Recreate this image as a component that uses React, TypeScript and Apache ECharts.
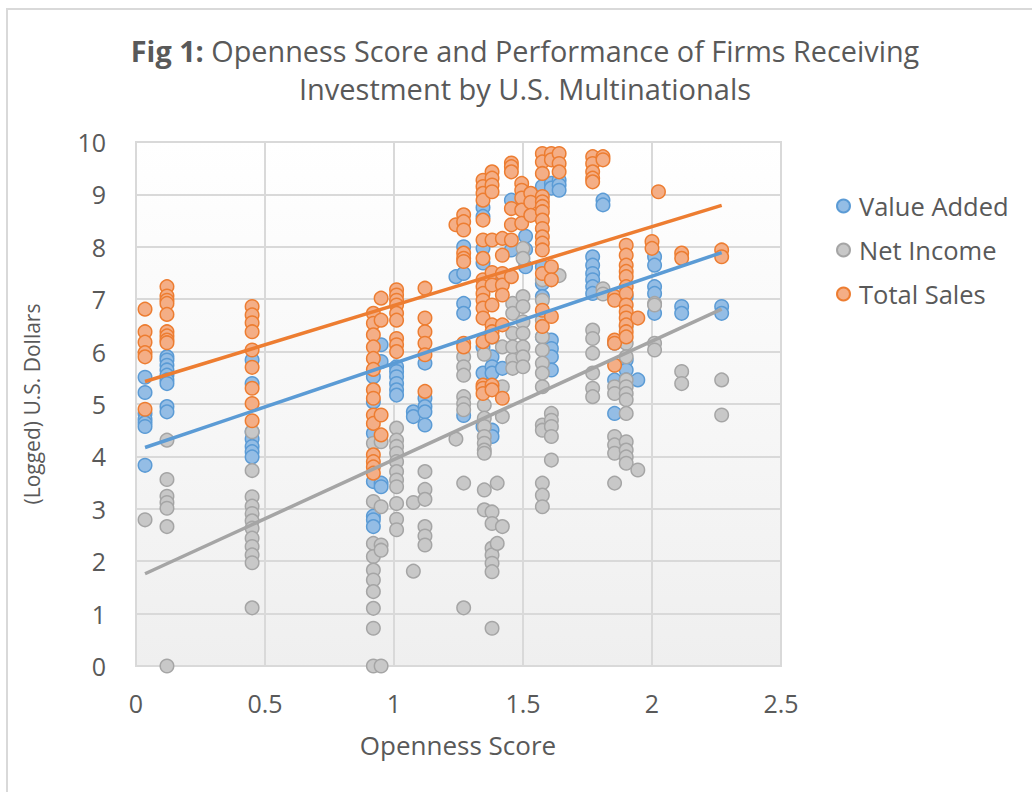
import React, { useEffect, useRef } from "react";
import * as echarts from "echarts";

// Each entry: [openness score, list of logged values at that score]
const valueAdded: [number, number[]][] = [
  [0.035, [5.51, 5.22, 4.82, 4.71, 4.64, 4.57, 3.83]],
  [0.12, [5.9, 5.84, 5.74, 5.65, 5.55, 5.46, 5.39, 4.95, 4.85]],
  [0.45, [5.84, 5.39, 4.47, 4.33, 4.19, 4.09, 3.99]],
  [0.92, [5.52, 5.04, 4.44, 3.52, 2.86, 2.79, 2.66]],
  [0.95, [6.13, 5.81, 3.49, 3.42]],
  [1.01, [5.71, 5.62, 5.52, 5.39, 5.27, 5.17]],
  [1.075, [4.85, 4.76]],
  [1.12, [5.78, 5.11, 4.95, 4.85, 4.6]],
  [1.24, [7.43]],
  [1.27, [8.0, 7.49, 6.92, 6.73, 4.78]],
  [1.345, [8.75, 8.58, 7.97, 7.69, 6.09, 5.59, 4.57]],
  [1.38, [6.28, 5.9, 5.71, 5.59, 4.5, 4.38]],
  [1.42, [7.43, 7.3, 5.68]],
  [1.455, [8.89, 7.94]],
  [1.51, [8.2, 7.95, 7.62]],
  [1.575, [9.15, 7.62, 7.3, 7.05, 6.28]],
  [1.61, [9.21, 9.12, 6.22, 6.06, 5.9, 5.65]],
  [1.64, [9.27, 9.18, 9.08]],
  [1.77, [7.81, 7.65, 7.49, 7.37, 7.24, 7.11]],
  [1.81, [8.89, 8.8]],
  [1.855, [6.16, 5.46, 4.82]],
  [1.9, [7.05, 5.84, 5.65, 5.46]],
  [1.945, [5.46]],
  [2.01, [7.81, 7.65, 7.24, 7.11, 6.73]],
  [2.115, [6.86, 6.73]],
  [2.27, [6.86, 6.73]],
];

const netIncome: [number, number[]][] = [
  [0.035, [2.79]],
  [0.12, [4.31, 3.56, 3.24, 3.12, 3.01, 2.66, 0]],
  [0.45, [4.47, 3.73, 3.23, 3.05, 2.91, 2.77, 2.63, 2.44, 2.28, 2.12, 1.97, 1.11]],
  [0.92, [4.25, 3.14, 2.34, 2.09, 1.83, 1.64, 1.42, 1.1, 0.72, 0]],
  [0.95, [4.28, 3.04, 2.31, 2.21, 0]],
  [1.01, [4.54, 4.31, 4.19, 4.06, 3.9, 3.71, 3.55, 3.42, 3.1, 2.8, 2.6]],
  [1.075, [3.12, 1.81]],
  [1.12, [3.71, 3.37, 3.18, 2.66, 2.48, 2.31]],
  [1.24, [4.33]],
  [1.27, [5.9, 5.71, 5.55, 5.14, 5.01, 4.89, 3.49, 1.11]],
  [1.35, [5.95, 4.98, 4.73, 4.57, 4.38, 4.25, 4.12, 4.06, 3.36, 2.98]],
  [1.38, [2.94, 2.72, 2.25, 2.12, 1.96, 1.8, 0.72]],
  [1.4, [3.49, 2.34]],
  [1.42, [6.09, 5.33, 4.76, 2.66]],
  [1.46, [6.92, 6.73, 6.35, 6.09, 5.84, 5.68]],
  [1.5, [7.97, 7.78, 7.05, 6.86, 6.57, 6.35, 6.09, 5.9, 5.71]],
  [1.575, [7.37, 6.98, 6.6, 6.28, 6.03, 5.78, 5.59, 5.33, 4.6, 4.5, 3.49, 3.26, 3.04]],
  [1.61, [7.56, 7.4, 4.82, 4.69, 4.57, 4.38, 3.93]],
  [1.64, [7.45]],
  [1.77, [6.41, 6.25, 5.97, 5.59, 5.3, 5.14]],
  [1.81, [7.2, 7.1]],
  [1.855, [5.33, 5.2, 4.38, 4.22, 4.06, 3.49]],
  [1.9, [6.48, 6.16, 5.9, 5.46, 5.33, 5.2, 5.08, 4.82, 4.28, 4.12, 3.99, 3.87]],
  [1.945, [3.74]],
  [2.01, [6.92, 6.89, 6.16, 6.03]],
  [2.115, [5.62, 5.39]],
  [2.27, [5.46, 4.79]],
];

const totalSales: [number, number[]][] = [
  [0.035, [6.81, 6.38, 6.18, 5.98, 5.9, 4.9]],
  [0.12, [7.24, 7.06, 6.98, 6.92, 6.71, 6.38, 6.3, 6.22, 6.17]],
  [0.45, [6.86, 6.7, 6.55, 6.38, 6.03, 5.7, 5.3, 5.01, 4.68]],
  [0.92, [6.73, 6.54, 6.32, 6.09, 5.87, 5.66, 5.27, 5.11, 4.79, 4.63, 4.03, 3.9, 3.8, 3.68]],
  [0.95, [7.02, 6.6, 4.79, 4.41]],
  [1.01, [7.18, 7.08, 6.98, 6.89, 6.73, 6.6, 6.25, 6.13, 6.0]],
  [1.12, [7.21, 6.64, 6.38, 6.16, 5.94, 5.24]],
  [1.24, [8.42]],
  [1.27, [8.61, 8.48, 8.32, 7.88, 7.78, 7.72, 6.16, 6.09]],
  [1.345, [9.27, 9.15, 9.02, 8.89, 8.51, 8.13, 7.78, 7.37, 7.24, 7.11, 6.98, 6.83, 6.64, 6.19, 5.36, 5.3, 5.2]],
  [1.38, [9.43, 9.31, 9.18, 9.05, 8.13, 7.51, 7.27, 6.89, 6.51, 6.38, 6.28, 5.36, 5.27]],
  [1.42, [8.16, 7.84, 7.49, 7.27, 7.08, 6.51, 5.11]],
  [1.455, [9.6, 9.53, 9.43, 8.73, 8.42, 8.13, 7.43]],
  [1.495, [9.21, 9.08, 8.93, 8.7, 8.45]],
  [1.53, [9.02, 8.85, 8.6]],
  [1.575, [9.78, 9.62, 9.4, 8.96, 8.86, 8.77, 8.67, 8.51, 8.35, 8.19, 8.07, 7.94, 7.49, 6.79, 6.48]],
  [1.61, [9.78, 9.66, 7.62, 7.37, 6.67]],
  [1.64, [9.78, 9.59, 9.43]],
  [1.77, [9.72, 9.59, 9.43, 9.31, 9.24]],
  [1.81, [9.72, 9.66]],
  [1.855, [7.05, 6.98, 6.22, 6.16, 5.74]],
  [1.9, [8.03, 7.84, 7.65, 7.53, 7.43, 7.24, 7.11, 6.89, 6.76, 6.64, 6.51, 6.38, 6.28]],
  [1.945, [6.64]],
  [2.0, [8.1, 7.97]],
  [2.025, [9.05]],
  [2.115, [7.88, 7.78]],
  [2.27, [7.94, 7.81]],
];

// Linear trendlines: start and end
const trendX = [0.035, 2.27];
const valueAddedTrend = [4.17, 7.89];
const netIncomeTrend = [1.76, 6.81];
const totalSalesTrend = [5.43, 8.79];

const xTicks = { min: 0, max: 2.5, interval: 0.5 };
const yTicks = { min: 0, max: 10, interval: 1 };

const FONT = "'Open Sans', sans-serif";
const TEXT = "#595959";

function flatten(cols: [number, number[]][]): number[][] {
  const out: number[][] = [];
  cols.forEach(([x, ys]) => ys.forEach((y) => out.push([x, y])));
  return out;
}

function trend(ys: number[]): number[][] {
  return trendX.map((x, i) => [x, ys[i]]);
}

export default function App() {
  const ref = useRef<HTMLDivElement>(null);

  useEffect(() => {
    if (!ref.current) return;
    const chart = echarts.init(ref.current, undefined, { renderer: "svg" });

    const scatter = (name: string, cols: [number, number[]][], fill: string, stroke: string, z: number) => ({
      name,
      type: "scatter",
      data: flatten(cols),
      symbol: "circle",
      symbolSize: 13.5,
      z,
      itemStyle: { color: fill, borderColor: stroke, borderWidth: 1.5, opacity: 1 },
    });

    const line = (ys: number[], color: string) => ({
      type: "line",
      data: trend(ys),
      showSymbol: false,
      symbol: "none",
      z: 10,
      lineStyle: { color, width: 3.5 },
      silent: true,
    });

    chart.setOption({
      animation: false,
      backgroundColor: "#ffffff",
      grid: {
        left: 136,
        right: 1032 - 781,
        top: 142,
        bottom: 792 - 666,
        show: true,
        borderColor: "#D9D9D9",
        borderWidth: 2,
        backgroundColor: new echarts.graphic.LinearGradient(0, 0, 0, 1, [
          { offset: 0, color: "#FFFFFF" },
          { offset: 1, color: "#EFEFEF" },
        ]),
      },
      xAxis: {
        type: "value",
        ...xTicks,
        axisLine: { show: true, lineStyle: { color: "#D9D9D9", width: 2 } },
        axisTick: { show: false },
        splitLine: { show: true, lineStyle: { color: "#D9D9D9", width: 2 } },
        axisLabel: { color: TEXT, fontSize: 25, fontFamily: FONT, margin: 24 },
      },
      yAxis: {
        type: "value",
        ...yTicks,
        axisLine: { show: true, lineStyle: { color: "#D9D9D9", width: 2 } },
        axisTick: { show: false },
        splitLine: { show: true, lineStyle: { color: "#D9D9D9", width: 2 } },
        axisLabel: { color: TEXT, fontSize: 25, fontFamily: FONT, margin: 30 },
      },
      legend: {
        orient: "vertical",
        left: 831,
        top: 188,
        itemWidth: 13,
        itemHeight: 13,
        itemGap: 18,
        icon: "circle",
        data: ["Value Added", "Net Income", "Total Sales"],
        textStyle: { color: TEXT, fontSize: 25.5, fontFamily: FONT, padding: [0, 0, 0, 4] },
        selectedMode: false,
      },
      graphic: [
        {
          type: "rect",
          shape: { x: 7, y: 9, width: 1300, height: 1000 },
          style: { fill: "none", stroke: "#D9D9D9", lineWidth: 2 },
          silent: true,
        },
        {
          type: "text",
          x: 525,
          y: 50,
          style: {
            text: "{b|Fig 1:} {n|Openness Score and Performance of Firms Receiving}",
            align: "center",
            verticalAlign: "middle",
            rich: {
              b: { fontWeight: "bold", fontSize: 28.8, fontFamily: FONT, fill: TEXT },
              n: { fontWeight: "normal", fontSize: 28.8, fontFamily: FONT, fill: TEXT },
            },
            fontSize: 28.8,
            fontFamily: FONT,
            fill: TEXT,
          },
        },
        {
          type: "text",
          x: 525,
          y: 88,
          style: {
            text: "Investment by U.S. Multinationals",
            align: "center",
            verticalAlign: "middle",
            fontSize: 29,
            fontFamily: FONT,
            fill: TEXT,
          },
        },
        {
          type: "text",
          x: 32,
          y: 404,
          rotation: Math.PI / 2,
          style: {
            text: "(Logged) U.S. Dollars",
            align: "center",
            verticalAlign: "middle",
            fontSize: 21,
            fontFamily: FONT,
            fill: TEXT,
          },
        },
        {
          type: "text",
          x: 458,
          y: 745,
          style: {
            text: "Openness Score",
            align: "center",
            verticalAlign: "middle",
            fontSize: 26,
            fontFamily: FONT,
            fill: TEXT,
          },
        },
      ],
      series: [
        scatter("Value Added", valueAdded, "#94BDE5", "#5B9BD5", 2),
        scatter("Net Income", netIncome, "#C8C8C8", "#A5A5A5", 3),
        scatter("Total Sales", totalSales, "#F4AE86", "#ED7D31", 4),
        line(valueAddedTrend, "#5B9BD5"),
        line(netIncomeTrend, "#A5A5A5"),
        line(totalSalesTrend, "#ED7D31"),
      ],
    });

    return () => chart.dispose();
  }, []);

  return (
    <div
      ref={ref}
      style={{ position: "fixed", left: 0, top: 0, width: 1032, height: 792, background: "#fff" }}
    />
  );
}
